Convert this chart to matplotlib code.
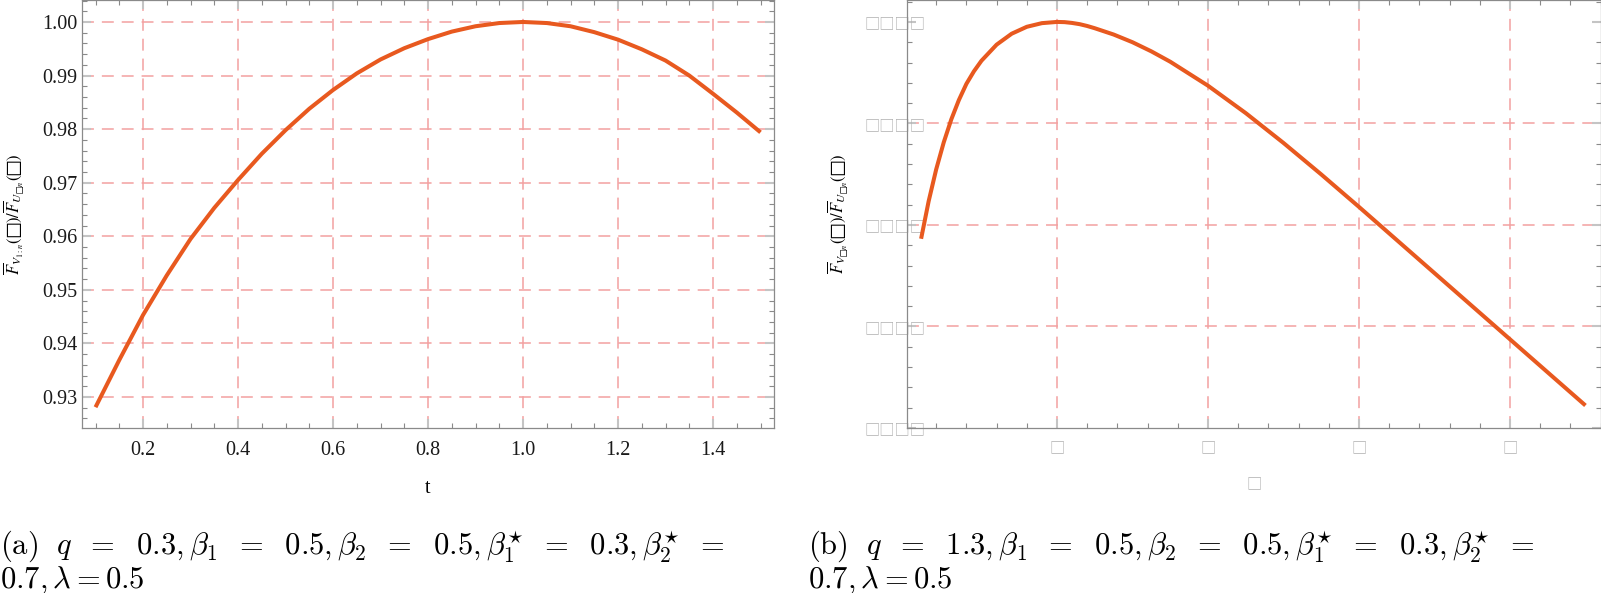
import matplotlib.pyplot as plt
from matplotlib.ticker import MultipleLocator

# panel (a): q = 0.3
t_a = [0.10, 0.15, 0.20, 0.25, 0.30, 0.35, 0.40, 0.45, 0.50, 0.55,
       0.60, 0.65, 0.70, 0.75, 0.80, 0.85, 0.90, 0.95, 1.00, 1.05,
       1.10, 1.15, 1.20, 1.25, 1.30, 1.35, 1.40, 1.45, 1.50]
ratio_a = [0.9281, 0.9369, 0.9453, 0.9527, 0.9595, 0.9653, 0.9705, 0.9754, 0.9798, 0.9838,
           0.9873, 0.9904, 0.9930, 0.9951, 0.9968, 0.9982, 0.9992, 0.9998, 1.0000, 0.9998,
           0.9992, 0.9981, 0.9967, 0.9949, 0.9928, 0.9900, 0.9866, 0.9831, 0.9794]

# panel (b): q = 1.3
t_b = [0.10, 0.15, 0.20, 0.25, 0.30, 0.35, 0.40, 0.45, 0.50, 0.60, 0.70, 0.80, 0.90,
       1.00, 1.05, 1.10, 1.15, 1.20, 1.25, 1.375, 1.50, 1.625, 1.75, 2.00, 2.25, 2.50,
       2.75, 3.00, 3.25, 3.50, 3.75, 4.00, 4.25, 4.50]
ratio_b = [0.8932, 0.9117, 0.9274, 0.9407, 0.9520, 0.9615, 0.9695, 0.9757, 0.9809, 0.9888, 0.9942, 0.9976, 0.9994,
           1.0000, 0.9999, 0.9995, 0.9989, 0.9980, 0.9969, 0.9938, 0.9900, 0.9855, 0.9804, 0.9686, 0.9551, 0.9404,
           0.9249, 0.9089, 0.8926, 0.8763, 0.8600, 0.8437, 0.8274, 0.8111]

xticks_a = [0.2, 0.4, 0.6, 0.8, 1.0, 1.2, 1.4]
yticks_a = [0.93, 0.94, 0.95, 0.96, 0.97, 0.98, 0.99, 1.00]
xticks_b = [1, 2, 3, 4]
yticks_b = [0.80, 0.85, 0.90, 0.95, 1.00]
ygrid_b = [0.85, 0.90, 0.95]

BOX = "\u25a1"
ylabel_a = r"$\overline{F}_{V_{1:n}}(" + BOX + r")/\overline{F}_{U_{" + BOX + r"n}}(" + BOX + ")$"
ylabel_b = r"$\overline{F}_{V_{" + BOX + r"n}}(" + BOX + r")/\overline{F}_{U_{" + BOX + r"n}}(" + BOX + ")$"

EQ = r"\ \:=\ \;"
caption_a = [r"$\mathrm{(a)}\ \ q" + EQ + r"0.3, \beta_1" + EQ + r"0.5, \beta_2" + EQ + r"0.5, \beta_1^{\star}"
             + EQ + r"0.3, \beta_2^{\star}" + EQ + "$",
             r"$0.7, \lambda = 0.5$"]
caption_b = [r"$\mathrm{(b)}\ \ q" + EQ + r"1.3, \beta_1" + EQ + r"0.5, \beta_2" + EQ + r"0.5, \beta_1^{\star}"
             + EQ + r"0.3, \beta_2^{\star}" + EQ + "$",
             r"$0.7, \lambda = 0.5$"]

line_color = "#e8591f"
grid_color = "#f3a1a1"
W, H = 1601, 593

fig = plt.figure(figsize=(W / 100, H / 100), dpi=100)
ax1 = fig.add_axes([81.7 / W, 1 - 428.3 / H, (774.3 - 81.7) / W, 428.3 / H])
ax2 = fig.add_axes([907 / W, 1 - 428 / H, (1601 - 907) / W, 428 / H])


def frame_style(ax):
    for s in ax.spines.values():
        s.set_color("#8a8a8a")
        s.set_linewidth(0.9)
    ax.tick_params(which="both", direction="in", top=True, right=True)
    ax.tick_params(which="major", length=6.5, width=1.5, color="#c4c4c4")
    ax.tick_params(which="minor", length=3.5, width=0.8, color="#8a8a8a")


def dashed(ax, xs, ys):
    for x in xs:
        ax.axvline(x, color=grid_color, lw=1.1, dashes=(7.8, 5.2), zorder=1)
    for y in ys:
        ax.axhline(y, color=grid_color, lw=1.1, dashes=(7.8, 5.2), zorder=1)


# ---- panel (a)
frame_style(ax1)
dashed(ax1, xticks_a, yticks_a)
ax1.plot(t_a, ratio_a, color=line_color, lw=2.9, zorder=3, solid_capstyle="butt")
ax1.set_xlim(0.0709, 1.529)
ax1.set_ylim(0.92416, 1.0041)
ax1.set_xticks(xticks_a)
ax1.set_xticklabels([f"{v:.1f}" for v in xticks_a])
ax1.set_yticks(yticks_a)
ax1.set_yticklabels([f"{v:.2f}" for v in yticks_a])
ax1.xaxis.set_minor_locator(MultipleLocator(0.05))
ax1.yaxis.set_minor_locator(MultipleLocator(0.002))
ax1.tick_params(axis="x", pad=9)
ax1.tick_params(axis="y", pad=3)
for lab in ax1.get_xticklabels() + ax1.get_yticklabels():
    lab.set_fontfamily("Liberation Serif")
    lab.set_fontsize(14.5)
    lab.set_color("#1a1a1a")
ax1.set_xlabel("t", family="Liberation Serif", fontsize=14.5, labelpad=14)
ax1.set_ylabel(ylabel_a, fontsize=12, math_fontfamily="stix")
ax1.yaxis.set_label_coords((26 - 81.7) / 692.6, 0.5)

# ---- panel (b)
frame_style(ax2)
dashed(ax2, xticks_b, ygrid_b)
ax2.plot(t_b, ratio_b, color=line_color, lw=2.9, zorder=3, solid_capstyle="butt")
ax2.set_xlim(0.0066, 4.603)
ax2.set_ylim(0.8004, 1.0108)
ax2.set_xticks(xticks_b)
ax2.set_xticklabels([BOX] * len(xticks_b))
ax2.set_yticks(yticks_b)
ax2.set_yticklabels([BOX * 4] * len(yticks_b))
ax2.xaxis.set_minor_locator(MultipleLocator(0.2))
ax2.yaxis.set_minor_locator(MultipleLocator(0.01))
ax2.tick_params(axis="x", pad=8)
ax2.tick_params(axis="y", pad=-13)
for lab in ax2.get_xticklabels() + ax2.get_yticklabels():
    lab.set_fontfamily(["Noto Sans CJK SC", "DejaVu Sans"])
    lab.set_fontsize(11)
    lab.set_color("#b0b0b0")
ax2.set_xlabel(BOX, family=["Noto Sans CJK SC", "DejaVu Sans"], fontsize=11,
               color="#b0b0b0", labelpad=14)
ax2.set_ylabel(ylabel_b, fontsize=12, math_fontfamily="stix")
ax2.yaxis.set_label_coords((850 - 907) / 694, 0.5)

# ---- captions
for x0, lines in [(0, caption_a), (808, caption_b)]:
    fig.text(x0 / W, 1 - 555 / H, lines[0], fontsize=22, math_fontfamily="cm", va="baseline")
    fig.text(x0 / W, 1 - 588 / H, lines[1], fontsize=22, math_fontfamily="cm", va="baseline")

fig.savefig("out.png", dpi=100)
